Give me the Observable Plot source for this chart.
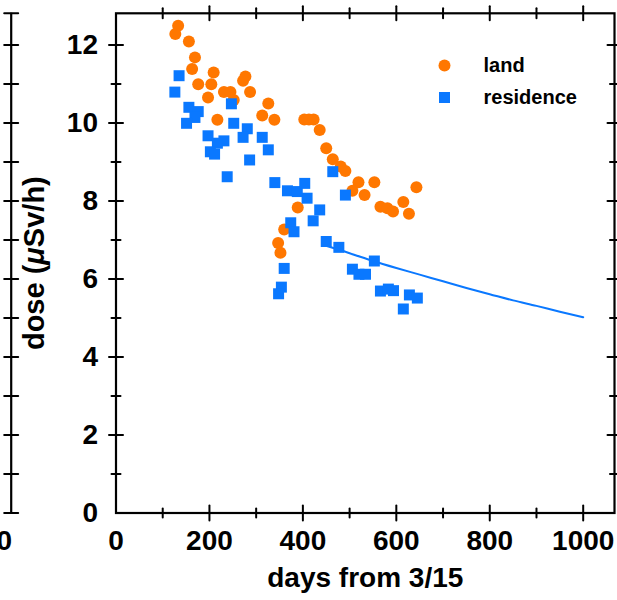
<!DOCTYPE html>
<html><head><meta charset="utf-8">
<script src="https://cdn.jsdelivr.net/npm/d3@7"></script>
<script src="https://cdn.jsdelivr.net/npm/@observablehq/plot@0.6"></script>
<style>html,body{margin:0;padding:0;background:#fff;} #chart svg{display:block}</style>
</head><body><div id="chart"></div>
<script>
// ---- data ----
const landDays = [133,127,156,169,163,209,176,204,197,277,272,287,231,245,252,217,326,313,339,403,413,423,436,450,464,481,491,519,506,553,532,566,581,593,389,360,347,352,615,627,643];
const landDose = [12.49,12.28,12.09,11.68,11.38,11.29,10.99,10.99,10.65,11.19,11.08,10.79,10.79,10.79,10.59,10.08,10.50,10.19,10.08,10.09,10.09,10.09,9.82,9.35,9.07,8.88,8.77,8.48,8.26,8.48,8.15,7.85,7.81,7.73,7.83,7.27,6.92,6.67,7.97,7.67,8.35];
const resDays = [135,126,156,176,169,151,247,252,281,272,197,231,217,202,211,313,326,286,238,340,367,388,404,409,464,491,436,422,374,381,450,477,360,354,348,506,520,534,553,566,583,594,615,628,645];
const resDose = [11.21,10.79,10.40,10.29,10.14,9.99,10.49,9.99,9.85,9.63,9.67,9.54,9.48,9.26,9.20,9.63,9.31,9.05,8.62,8.47,8.26,8.24,8.45,8.07,8.75,8.15,7.77,7.49,7.44,7.21,6.96,6.81,6.27,5.79,5.62,6.25,6.12,6.12,6.46,5.69,5.74,5.70,5.23,5.59,5.51];
const fitDays = [444,500,550,600,650,700,750,800,850,900,950,1000];
const fitDose = [6.87,6.66,6.46,6.28,6.11,5.94,5.77,5.61,5.45,5.31,5.16,5.02];
const xMajorTicks = [200,400,600,800,1000];
const xMinorTicks = [100,300,500,700,900];
const xLabelTicks = [0,200,400,600,800,1000];
const yMajorTicks = [2,4,6,8,10,12];
const yMinorTicks = [1,3,5,7,9,11];
const yLabelTicks = [0,2,4,6,8,10,12];
const seriesNames = ["land","residence"];
const xTitle = "days from 3/15";
const yTitle = "dose (μSv/h)";

const land = landDays.map((d,i)=>({day:d, dose:landDose[i]}));
const res = resDays.map((d,i)=>({day:d, dose:resDose[i]}));
const fit = fitDays.map((d,i)=>({day:d, dose:fitDose[i]}));

const ORANGE = "#ff7700";
const BLUE = "#0a78ff";
const FONT = "'Liberation Sans', Arial, Helvetica, sans-serif";
const tickShape = {draw(ctx, l){ ctx.moveTo(0,0); ctx.lineTo(0,-l); }};
const TK = {shape: tickShape, stroke: "black", strokeWidth: 2};
const MAJ = 14, MIN = 9;
const STUB = -104.8;
const plain = d3.format("d");

const plot = Plot.plot({
  width: 617, height: 600,
  marginTop: 12.8, marginBottom: 87.5, marginLeft: 115.5, marginRight: 3,
  x: {domain: [0, 1067]},
  y: {domain: [0, 12.81]},
  style: {fontFamily: FONT, background: "white", overflow: "hidden"},
  marks: [
    // partial neighbouring panel at far left
    Plot.ruleX([0], {dx: STUB, stroke: "black", strokeWidth: 2.2}),
    Plot.vector([...yMajorTicks, ...yMinorTicks, 0], {y: d=>d, frameAnchor: "left", dx: STUB, rotate: -90, length: 14, ...TK}),
    Plot.vector([0], {frameAnchor: "top-left", dx: STUB, rotate: -90, length: 14, ...TK}),
    Plot.text(["1000"], {text: d=>d, frameAnchor: "bottom-left", dx: STUB + 1, dy: 17.5, textAnchor: "end", lineAnchor: "top", fontSize: 28, fontWeight: "bold", fill: "black"}),
    // ticks (inward)
    Plot.vector(yMajorTicks, {y: d=>d, frameAnchor: "left", rotate: 90, length: MAJ, ...TK}),
    Plot.vector(yMinorTicks, {y: d=>d, frameAnchor: "left", rotate: 90, length: MIN, ...TK}),
    Plot.vector(yMajorTicks, {y: d=>d, frameAnchor: "right", rotate: -90, length: MAJ, ...TK}),
    Plot.vector(yMinorTicks, {y: d=>d, frameAnchor: "right", rotate: -90, length: MIN, ...TK}),
    Plot.vector(xMajorTicks, {x: d=>d, frameAnchor: "bottom", rotate: 0, length: 15, ...TK}),
    Plot.vector(xMinorTicks, {x: d=>d, frameAnchor: "bottom", rotate: 0, length: MIN, ...TK}),
    Plot.vector(xMajorTicks, {x: d=>d, frameAnchor: "top", rotate: 180, length: MAJ, ...TK}),
    Plot.vector(xMinorTicks, {x: d=>d, frameAnchor: "top", rotate: 180, length: 10, ...TK}),
    // tick labels
    Plot.axisY({ticks: yLabelTicks, tickFormat: plain, tickSize: 0, tickPadding: 18, label: null, fontSize: 28, fontWeight: "bold", fill: "black"}),
    Plot.axisX({ticks: xLabelTicks, tickFormat: plain, tickSize: 0, tickPadding: 17.5, label: null, fontSize: 28, fontWeight: "bold", fill: "black"}),
    // titles
    Plot.text([xTitle], {text: d=>d, frameAnchor: "bottom", dy: 65, lineAnchor: "middle", textAnchor: "middle", fontSize: 28, fontWeight: "bold", fill: "black"}),
    Plot.text([yTitle], {text: d=>d, frameAnchor: "left", dx: -81, dy: 0, rotate: -90, textAnchor: "middle", lineAnchor: "middle", fontSize: 29, fontWeight: "bold", fill: "black"}),
    // data
    Plot.line(fit, {x: "day", y: "dose", stroke: BLUE, strokeWidth: 2, curve: "monotone-x"}),
    Plot.dot(land, {x: "day", y: "dose", r: 6, fill: ORANGE}),
    Plot.dot(res, {x: "day", y: "dose", r: 6.2, symbol: "square", fill: BLUE}),
    // legend
    Plot.dot([0], {frameAnchor: "top-right", dx: -170, dy: 52.2, r: 6, fill: ORANGE}),
    Plot.dot([0], {frameAnchor: "top-right", dx: -170, dy: 84.2, r: 6.2, symbol: "square", fill: BLUE}),
    Plot.text([seriesNames[0]], {text: d=>d, frameAnchor: "top-right", dx: -131, dy: 52.2, textAnchor: "start", lineAnchor: "middle", fontSize: 20, fontWeight: "bold", fill: "black"}),
    Plot.text([seriesNames[1]], {text: d=>d, frameAnchor: "top-right", dx: -131, dy: 84.2, textAnchor: "start", lineAnchor: "middle", fontSize: 20, fontWeight: "bold", fill: "black"}),
    Plot.frame({stroke: "black", strokeWidth: 2.2})
  ]
});
document.getElementById("chart").appendChild(plot);
// italic mu in the y title
plot.querySelectorAll("text").forEach(t => {
  if (t.textContent === yTitle) {
    const parts = yTitle.split("μ");
    while (t.firstChild) t.removeChild(t.firstChild);
    const NS = "http://www.w3.org/2000/svg";
    t.appendChild(document.createTextNode(parts[0]));
    const ts = document.createElementNS(NS, "tspan");
    ts.setAttribute("font-style", "italic");
    ts.textContent = "μ";
    t.appendChild(ts);
    t.appendChild(document.createTextNode(parts[1]));
  }
});
</script>
</body></html>
